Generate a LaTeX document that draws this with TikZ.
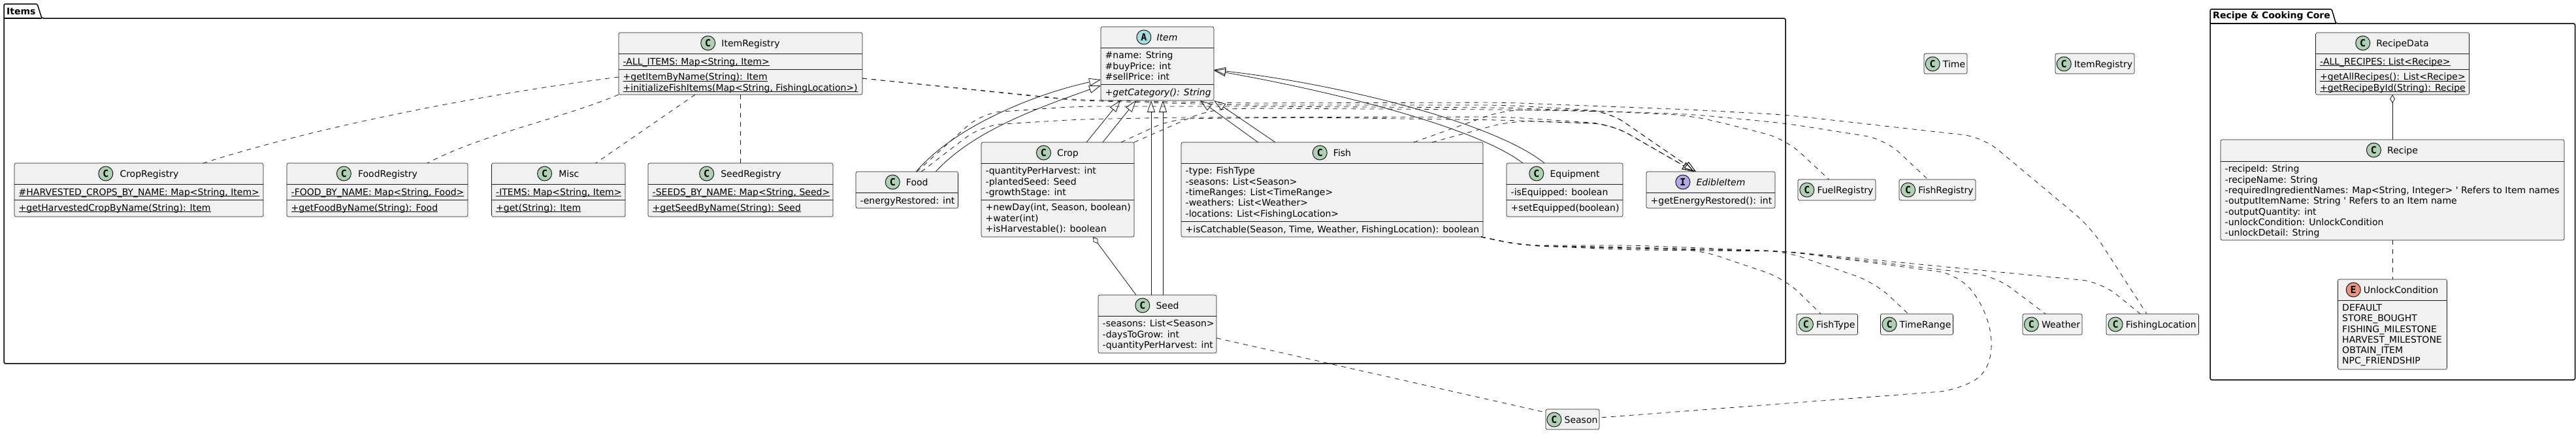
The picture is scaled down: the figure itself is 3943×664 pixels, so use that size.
\documentclass[tikz,border=0pt]{standalone}
\usepackage{fontspec}
\setmainfont{DejaVu Sans}
\setmonofont{DejaVu Sans Mono}
\usetikzlibrary{arrows.meta,calc,fit,positioning}
\definecolor{umlline}{HTML}{181818}
\definecolor{umlfill}{HTML}{F1F1F1}
\definecolor{badgec}{HTML}{ADD1B2}
\definecolor{badgea}{HTML}{A9DCDF}
\definecolor{badgei}{HTML}{B4A7E5}
\definecolor{badgee}{HTML}{EB937F}
\tikzset{
  classbox/.style={draw=umlline,fill=umlfill,line width=.6pt,rounded corners=2.5pt,inner sep=0pt,outer sep=0pt},
  classname/.style={inner sep=0pt,text height=12pt,text depth=2pt},
  badge/.style={circle,draw=umlline,line width=1pt,inner sep=0pt,minimum size=22pt,font=\fontsize{15}{15}\selectfont\bfseries\ttfamily},
  members/.style={inner sep=0pt,align=left,anchor=north west,execute at begin node={\rule{0pt}{11pt}}},
  divline/.style={draw=umlline,line width=.6pt},
  pkgline/.style={draw=black,line width=1.5pt},
  pkgname/.style={inner sep=0pt,font=\fontsize{14}{16}\selectfont\bfseries},
  solidline/.style={draw=umlline,line width=.8pt},
  depline/.style={solidline,dash pattern=on 7pt off 7pt,rounded corners=30pt},
  inhline/.style={solidline,-{Triangle[open,length=18pt,width=12pt]}},
  implline/.style={depline,-{Triangle[open,length=18pt,width=12pt]}},
  aggline/.style={solidline,{Diamond[open,length=13pt,width=8pt]}-}
}
\newsavebox{\stbox}
\newcommand{\st}[1]{\sbox{\stbox}{#1}\rlap{\rule[-1.8pt]{\wd\stbox}{.8pt}}\usebox{\stbox}}
\newcommand{\umlbox}[5]{\node[classbox,fit={(#2,-#3)(#4,-#5)}] (#1) {};}
\newcommand{\umlhead}[5]{%
  \node[classname] (#1name) at ([xshift={(22+#5)/2},yshift=-16pt]#1.north) {#4};
  \node[badge,fill=badge#2,left=#5pt of #1name] (#1badge) {#3};}
\newcommand{\umlpart}[4]{%
  \draw[divline] ([yshift=-#3pt]#1.north west) -- ([yshift=-#3pt]#1.north east);
  \node[members] (#1#2) at ([xshift=6.5pt,yshift=-#3pt-6pt]#1.north west) {#4};}
\begin{document}
\begin{tikzpicture}[x=1pt,y=1pt,every node/.style={font=\fontsize{14}{16.3}\selectfont}]
  \useasboundingbox (0,0) rectangle (3943,-664);
  \fill[white] (0,0) rectangle (3943,-664);

  \draw[pkgline,rounded corners=2.5pt] (6,-28) -- (6,-6) -- (57,-6) -- (64,-28) -- (2733,-28) -- (2733,-557) -- (6,-557) -- cycle;
  \draw[pkgline] (6,-28) -- (64,-28);
  \node[pkgname,anchor=west] (itemstab) at (10,-17) {Items};
  \draw[pkgline,rounded corners=2.5pt] (3383,-36) -- (3383,-14) -- (3569,-14) -- (3575.5,-36) -- (3941.5,-36) -- (3941.5,-582) -- (3383,-582) -- cycle;
  \draw[pkgline] (3383,-36) -- (3575.5,-36);
  \node[pkgname,anchor=west] (recipetab) at (3387,-25) {Recipe \& Cooking Core};

  \umlbox{itemreg}{947}{50}{1320}{145}
  \umlhead{itemreg}{c}{C}{ItemRegistry}{9}
  \umlpart{itemreg}{a}{32}{\st{-ALL\_ITEMS: Map<String, Item>}}
  \umlpart{itemreg}{b}{56}{\st{+getItemByName(String): Item}\\\st{+initializeFishItems(Map<String, FishingLocation>)}}

  \umlbox{cropreg}{22}{250}{403}{332}
  \umlhead{cropreg}{c}{C}{CropRegistry}{10}
  \umlpart{cropreg}{a}{32}{\st{\#HARVESTED\_CROPS\_BY\_NAME: Map<String, Item>}}
  \umlpart{cropreg}{b}{56}{\st{+getHarvestedCropByName(String): Item}}

  \umlbox{foodreg}{439}{250}{716}{332}
  \umlhead{foodreg}{c}{C}{FoodRegistry}{10}
  \umlpart{foodreg}{a}{32}{\st{-FOOD\_BY\_NAME: Map<String, Food>}}
  \umlpart{foodreg}{b}{56}{\st{+getFoodByName(String): Food}}

  \umlbox{misc}{752.5}{250}{957}{332}
  \umlhead{misc}{c}{C}{Misc}{10}
  \umlpart{misc}{a}{32}{\st{-ITEMS: Map<String, Item>}}
  \umlpart{misc}{b}{56}{\st{+get(String): Item}}

  \umlbox{seedreg}{992}{250}{1275}{332}
  \umlhead{seedreg}{c}{C}{SeedRegistry}{10}
  \umlpart{seedreg}{a}{32}{\st{-SEEDS\_BY\_NAME: Map<String, Seed>}}
  \umlpart{seedreg}{b}{56}{\st{+getSeedByName(String): Seed}}

  \umlbox{food}{1310}{263}{1466.5}{319}
  \umlhead{food}{c}{C}{Food}{9}
  \umlpart{food}{a}{32}{-energyRestored: int}

  \umlbox{crop}{1502}{218}{1736}{363}
  \umlhead{crop}{c}{C}{Crop}{9}
  \umlpart{crop}{a}{32}{-quantityPerHarvest: int\\-plantedSeed: Seed\\-growthStage: int}
  \umlpart{crop}{b}{88}{+newDay(int, Season, boolean)\\+water(int)\\+isHarvestable(): boolean}

  \umlbox{item}{1685}{41}{1858}{154}
  \umlhead{item}{a}{A}{\textit{Item}}{8}
  \umlpart{item}{a}{32}{\#name: String\\\#buyPrice: int\\\#sellPrice: int}
  \umlpart{item}{b}{88}{\textit{+getCategory(): String}}

  \umlbox{fish}{1808}{218}{2270}{363}
  \umlhead{fish}{c}{C}{Fish}{9}
  \umlpart{fish}{a}{32}{-type: FishType\\-seasons: List<Season>\\-timeRanges: List<TimeRange>\\-weathers: List<Weather>\\-locations: List<FishingLocation>}
  \umlpart{fish}{b}{121}{+isCatchable(Season, Time, Weather, FishingLocation): boolean}

  \umlbox{equipment}{2306}{250}{2484}{332}
  \umlhead{equipment}{c}{C}{Equipment}{9}
  \umlpart{equipment}{a}{32}{-isEquipped: boolean}
  \umlpart{equipment}{b}{56}{+setEquipped(boolean)}

  \umlbox{edible}{2520}{263}{2717}{319}
  \umlhead{edible}{i}{I}{\textit{EdibleItem}}{9}
  \umlpart{edible}{a}{32}{+getEnergyRestored(): int}

  \umlbox{seed}{1681}{452}{1862}{541}
  \umlhead{seed}{c}{C}{Seed}{9}
  \umlpart{seed}{a}{32}{-seasons: List<Season>\\-daysToGrow: int\\-quantityPerHarvest: int}

  \foreach \nm/\txt/\xa/\ya/\xb/\yb in {fuelreg/FuelRegistry/2752/275/2871/307, fishreg/FishRegistry/2907/275/3024/307, timecls/Time/2945/82/3011/113, itemstub/ItemRegistry/3146/82/3267/113, fishtype/FishType/2750/481/2843.5/513, timerange/TimeRange/2878.5/481/2989.5/513, weather/Weather/3096/481/3187/513, fishloc/FishingLocation/3224/481/3365.5/513, season/Season/2366/627/2448/658}
  {
    \umlbox{\nm}{\xa}{\ya}{\xb}{\yb}
    \umlhead{\nm}{c}{C}{\txt}{4}
  }

  \umlbox{recipedata}{3544.5}{50}{3779.5}{145}
  \umlhead{recipedata}{c}{C}{RecipeData}{9}
  \umlpart{recipedata}{a}{32}{\st{-ALL\_RECIPES: List<Recipe>}}
  \umlpart{recipedata}{b}{56}{\st{+getAllRecipes(): List<Recipe>}\\\st{+getRecipeById(String): Recipe}}

  \umlbox{recipe}{3399}{214}{3925}{368}
  \umlhead{recipe}{c}{C}{Recipe}{9}
  \umlpart{recipe}{a}{33}{-recipeId: String\\-recipeName: String\\-requiredIngredientNames: Map<String, Integer> \textquotesingle{} Refers to Item names\\-outputItemName: String \textquotesingle{} Refers to an Item name\\-outputQuantity: int\\-unlockCondition: UnlockCondition\\-unlockDetail: String}

  \umlbox{unlock}{3578.5}{428}{3745.5}{566}
  \umlhead{unlock}{e}{E}{UnlockCondition}{4}
  \umlpart{unlock}{a}{32}{DEFAULT\\STORE\_BOUGHT\\FISHING\_MILESTONE\\HARVEST\_MILESTONE\\OBTAIN\_ITEM\\NPC\_FRIENDSHIP}

  \draw[depline] ([yshift=-20.5pt]itemreg.west) .. controls (697,-150) and (461,-202) .. ([xshift=98.5pt]cropreg.north);
  \draw[depline] (itemreg.south west) .. controls (850,-185) and (740,-205) .. ([xshift=76.5pt]foodreg.north);
  \draw[depline] ([xshift=-69.5pt]itemreg.south) -- ([xshift=57pt]misc.north);
  \draw[depline] (itemreg.south) -- (seedreg.north);

  \draw[inhline] ([xshift=14pt]food.north) .. controls (1460,-195) and (1580,-145) .. ([yshift=-24.5pt]item.west);
  \draw[inhline] ([xshift=44pt]food.north) .. controls (1490,-200) and (1590,-165) .. ([yshift=-33.5pt]item.west);
  \draw[inhline] ([xshift=44pt]crop.north) -- ([xshift=-56.5pt]item.south);
  \draw[inhline] ([xshift=69pt]crop.north) -- ([xshift=-32.5pt]item.south);
  \draw[inhline] ([xshift=-9.5pt]seed.north) -- ([xshift=-9.5pt]item.south);
  \draw[inhline] ([xshift=8.5pt]seed.north) -- ([xshift=8.5pt]item.south);
  \draw[inhline] ([xshift=-113.5pt]fish.north) -- ([xshift=65.5pt]item.south);
  \draw[inhline] ([xshift=-87pt]fish.north) -- (item.south east);
  \draw[inhline] ([xshift=-31pt]equipment.north) .. controls (2290,-190) and (2060,-130) .. ([yshift=-9.5pt]item.east);
  \draw[inhline] ([xshift=-64pt]equipment.north) .. controls (2260,-195) and (2040,-140) .. ([yshift=-10.5pt]item.east);
  \draw[aggline] ([xshift=54pt]crop.south) -- ([xshift=-32.5pt]seed.north);
  \draw[aggline] (recipedata.south) -- (recipe.north);
  \draw[depline] (recipe.south) -- (unlock.north);

  \draw[depline] ([yshift=-22.5pt]itemreg.east) -- (1646,-153) -- (1900,-158) -- (2300,-157) -- (2587,-168) -- (2733,-176) -- (3035,-210) -- (3200,-348) -- ([xshift=-8.75pt]fishloc.north);
  \draw[implline] ([yshift=-22.5pt]itemreg.east) -- (1646,-154) -- (1900,-161) -- (2300,-161) -- (2461,-170) -- ([xshift=-22.5pt]edible.north);
  \draw[depline] ([xshift=15pt]food.north) -- (1503,-173) -- (1650,-163) -- (1900,-163) -- (2300,-165) -- (2587,-175) -- (2733,-189) -- (2885,-213) -- ([xshift=-14.5pt]fishreg.north);
  \draw[implline] ([xshift=22pt]food.north) -- (1503,-192) -- (1650,-183) -- (1800,-180) -- (2300,-179) -- (2466,-190) -- ([xshift=-25.5pt]edible.north);
  \draw[implline] ([xshift=97pt]crop.north) -- (1794,-182) -- (2000,-180) -- (2300,-184) -- (2466,-190) -- ([xshift=-25.5pt]edible.north);
  \draw[depline] (crop.north east) -- (1850,-168) -- (1906,-166) -- (2300,-168) -- (2466,-171) -- (2587,-177) -- (2656,-193) -- (2733,-213) -- ([xshift=-12pt]fuelreg.north);
  \draw[implline] ([xshift=125pt]fish.north) -- (2304,-168) -- (2461,-170) -- ([xshift=-22.5pt]edible.north);
  \draw[implline] ([xshift=153pt]fish.north) -- (2314,-185) -- (2466,-190) -- ([xshift=-25.5pt]edible.north);

  \draw[depline] ([xshift=-3pt]fish.south east) -- (2330,-376) -- (2500,-380) -- (2602,-383) -- (2732,-427) -- ([xshift=-9.75pt]fishtype.north);
  \draw[depline] ([xshift=-3pt]fish.south east) -- (2330,-376) -- (2500,-379) -- (2732,-385) -- (2870,-433) -- ([xshift=-13pt]timerange.north);
  \draw[depline] ([xshift=-3pt]fish.south east) -- (2330,-376) -- (2500,-376) -- (2732,-385) -- (3054,-423) -- ([xshift=-10.5pt]weather.north);
  \draw[depline] ([xshift=-3pt]fish.south east) -- (2330,-376) -- (2500,-383) -- (2732,-385) -- (2997,-420) .. controls (3055,-490) and (3060,-560) .. (2997,-598) -- ([yshift=2.5pt]season.east);
  \draw[depline] ([xshift=-3pt]fish.south east) -- (2330,-376) -- (2500,-381) -- (2732,-385) -- (3216,-432) -- ([xshift=-18.75pt]fishloc.north);
  \draw[depline] ([yshift=-21.5pt]seed.east) -- ([yshift=10.5pt]season.west);
\end{tikzpicture}
\end{document}
